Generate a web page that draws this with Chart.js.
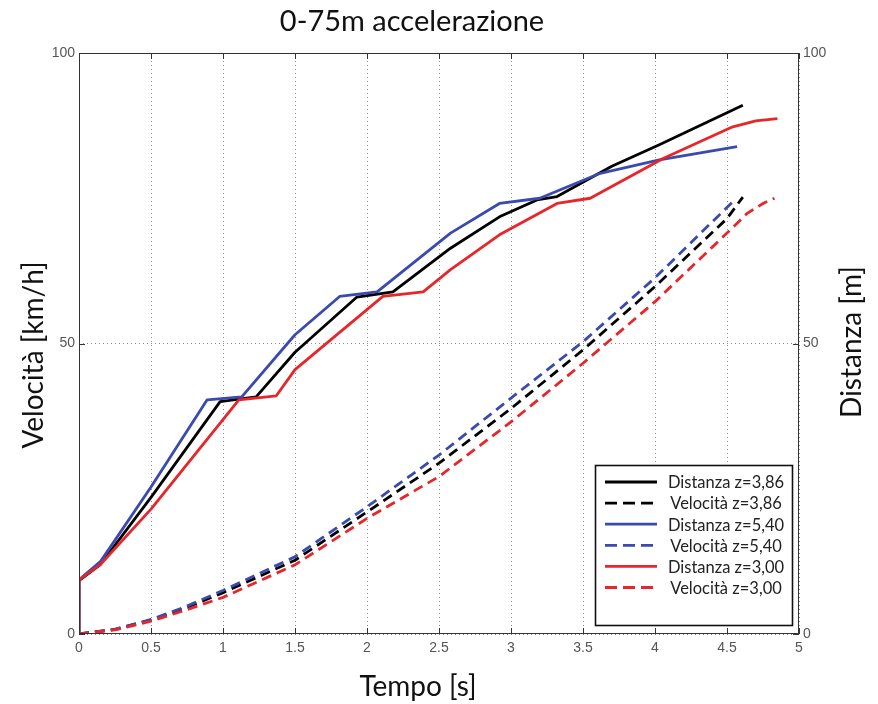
<!DOCTYPE html>
<html>
<head>
<meta charset="utf-8">
<script src="https://cdn.jsdelivr.net/npm/chart.js@4/dist/chart.umd.min.js"></script>
<style>
  html, body { margin: 0; padding: 0; background: #fff; }
  #wrap { width: 878px; height: 704px; position: relative; }
</style>
</head>
<body>
<div id="wrap"><canvas id="c"></canvas></div>
<script>
// Titles
const chartTitle = '0-75m accelerazione';
const xTitle = 'Tempo [s]';
const yLeftTitle = 'Velocità [km/h]';
const yRightTitle = 'Distanza [m]';

// Axis ticks
const xTicks = [0, 0.5, 1, 1.5, 2, 2.5, 3, 3.5, 4, 4.5, 5];
const yTicks = [0, 50, 100];

// Series labels
const seriesLabels = [
  'Distanza z=3,86', 'Velocità z=3,86',
  'Distanza z=5,40', 'Velocità z=5,40',
  'Distanza z=3,00', 'Velocità z=3,00'
];

// z = 3,86 (solid)
const tDist386 = [0, 0, 0.15, 0.5, 0.98, 1.23, 1.5, 1.93, 2.18, 2.58, 2.92, 3.18, 3.32, 3.7, 4.03, 4.61];
const dist386  = [0, 9.2, 12, 23.5, 40, 40.8, 48.5, 58, 58.9, 66.4, 71.8, 74.7, 75.3, 80.5, 84.2, 91.0];
// z = 3,86 (dashed)
const tVel386 = [0, 0.25, 0.5, 0.75, 1, 1.5, 2, 2.5, 3, 3.5, 4, 4.5, 4.61];
const vel386  = [0, 0.8, 2.4, 4.6, 7.1, 12.7, 21, 29.4, 38.8, 48.9, 59.8, 71.5, 75.2];

// z = 5,40 (solid)
const tDist540 = [0, 0, 0.15, 0.5, 0.89, 1.13, 1.5, 1.81, 2.07, 2.58, 2.92, 3.2, 3.62, 4.03, 4.57];
const dist540  = [0, 9.3, 12.5, 25.3, 40.3, 40.8, 51.5, 58.1, 58.9, 69, 74.1, 75, 79.3, 81.6, 83.9];
// z = 5,40 (dashed)
const tVel540 = [0, 0.25, 0.5, 0.75, 1, 1.5, 2, 2.5, 3, 3.5, 4, 4.54];
const vel540  = [0, 0.8, 2.5, 4.8, 7.5, 13.3, 21.9, 30.8, 40.6, 50.3, 61.3, 74.4];

// z = 3,00 (solid)
const tDist300 = [0, 0, 0.15, 0.5, 1.11, 1.37, 1.5, 2.11, 2.39, 2.58, 2.92, 3.32, 3.55, 4.06, 4.54, 4.7, 4.85];
const dist300  = [0, 9.3, 12, 21.5, 40.3, 41, 45.5, 58.1, 58.9, 62.7, 68.7, 74.1, 75, 81.9, 87.3, 88.3, 88.7];
// z = 3,00 (dashed)
const tVel300 = [0, 0.25, 0.5, 0.75, 1, 1.5, 2, 2.5, 3, 3.5, 4, 4.5, 4.64, 4.75, 4.83];
const vel300  = [0, 0.7, 2.2, 4.2, 6.3, 11.9, 19.9, 27.1, 36.5, 46.6, 57.2, 69, 72.4, 74.1, 75];

const BLACK = '#000000';
const BLUE = '#3a4aae';
const RED = '#e8262a';

function pts(ts, vs) { return ts.map((t, i) => ({ x: t, y: vs[i] })); }

function series(label, ts, vs, color, dashed, order) {
  return {
    label: label,
    data: pts(ts, vs),
    borderColor: color,
    backgroundColor: color,
    borderWidth: 2.8,
    borderDash: dashed ? [10, 6] : [],
    borderJoinStyle: 'round',
    pointRadius: 0,
    tension: 0,
    fill: false,
    order: order,
    yAxisID: 'y'
  };
}

const datasets = [
  series(seriesLabels[0], tDist386, dist386, BLACK, false, 3),
  series(seriesLabels[1], tVel386, vel386, BLACK, true, 3),
  series(seriesLabels[2], tDist540, dist540, BLUE, false, 2),
  series(seriesLabels[3], tVel540, vel540, BLUE, true, 2),
  series(seriesLabels[4], tDist300, dist300, RED, false, 1),
  series(seriesLabels[5], tVel300, vel300, RED, true, 1)
];

const TEXT_FONT = 'Lato, "Open Sans", sans-serif';
const TICK_FONT = { family: '"Liberation Sans", Arial, sans-serif', size: 14 };

// Frame, inward tick marks, titles and the boxed legend
const decorations = {
  id: 'decorations',
  afterDatasetsDraw(chart) {
    const { ctx, chartArea: a, scales } = chart;
    ctx.save();
    ctx.strokeStyle = '#333';
    ctx.lineWidth = 1;
    ctx.setLineDash([]);
    ctx.strokeRect(a.left + 0.5, a.top + 0.5, a.right - a.left - 1, a.bottom - a.top - 1);
    ctx.beginPath();
    xTicks.forEach(v => {
      const px = Math.round(scales.x.getPixelForValue(v)) + 0.5;
      ctx.moveTo(px, a.bottom); ctx.lineTo(px, a.bottom - 6);
      ctx.moveTo(px, a.top); ctx.lineTo(px, a.top + 6);
    });
    yTicks.forEach(v => {
      const py = Math.round(scales.y.getPixelForValue(v)) + 0.5;
      ctx.moveTo(a.left, py); ctx.lineTo(a.left + 6, py);
      ctx.moveTo(a.right, py); ctx.lineTo(a.right - 6, py);
    });
    ctx.stroke();
    ctx.restore();
  },
  afterDraw(chart) {
    const { ctx } = chart;
    ctx.save();
    ctx.fillStyle = '#111';
    ctx.textAlign = 'center';
    ctx.textBaseline = 'middle';

    ctx.font = '29px ' + TEXT_FONT;
    ctx.fillText(chartTitle, 412, 22);
    ctx.font = '28px ' + TEXT_FONT;
    ctx.fillText(xTitle, 418, 687);

    ctx.save();
    ctx.translate(34, 355);
    ctx.rotate(-Math.PI / 2);
    ctx.fillText(yLeftTitle, 0, 0);
    ctx.restore();

    ctx.save();
    ctx.translate(852, 342);
    ctx.rotate(-Math.PI / 2);
    ctx.fillText(yRightTitle, 0, 0);
    ctx.restore();

    // Legend box
    const bx = 595.5, by = 465.5, bw = 197, bh = 160;
    ctx.fillStyle = '#fff';
    ctx.fillRect(bx, by, bw, bh);
    ctx.strokeStyle = '#111';
    ctx.lineWidth = 1.6;
    ctx.strokeRect(bx, by, bw, bh);

    ctx.font = '16.5px ' + TEXT_FONT;
    ctx.textAlign = 'center';
    ctx.fillStyle = '#222';
    chart.data.datasets.forEach((ds, i) => {
      const y = 482 + i * 21.1;
      ctx.save();
      ctx.strokeStyle = ds.borderColor;
      ctx.lineWidth = 2.8;
      ctx.setLineDash(ds.borderDash.length ? [12, 6] : []);
      ctx.beginPath();
      ctx.moveTo(605, y);
      ctx.lineTo(657, y);
      ctx.stroke();
      ctx.restore();
      ctx.fillText(ds.label, 726, y + 1);
    });
    ctx.restore();
  }
};

function fixedWidth(w) { return function (scale) { scale.width = w; }; }

new Chart(document.getElementById('c'), {
  type: 'line',
  data: { datasets: datasets },
  plugins: [decorations],
  options: {
    responsive: true,
    maintainAspectRatio: false,
    animation: false,
    layout: { padding: { top: 53, left: 0, right: 0, bottom: 0 } },
    plugins: {
      legend: { display: false },
      title: { display: false },
      tooltip: { enabled: false }
    },
    scales: {
      x: {
        type: 'linear',
        min: 0, max: 5,
        afterFit(scale) { scale.height = 70; },
        afterBuildTicks(scale) { scale.ticks = xTicks.map(v => ({ value: v })); },
        ticks: {
          color: '#555',
          font: TICK_FONT,
          padding: 6,
          maxRotation: 0,
          autoSkip: false,
          callback: v => String(v)
        },
        grid: { color: '#8a8a8a', lineWidth: 1, drawTicks: false },
        border: { display: false, dash: [1, 3] }
      },
      y: {
        type: 'linear',
        position: 'left',
        min: 0, max: 100,
        afterFit: fixedWidth(79),
        afterBuildTicks(scale) { scale.ticks = yTicks.map(v => ({ value: v })); },
        ticks: { color: '#555', font: TICK_FONT, padding: 4, callback: v => String(v) },
        grid: { color: '#8a8a8a', lineWidth: 1, drawTicks: false },
        border: { display: false, dash: [1, 3] }
      },
      y2: {
        type: 'linear',
        position: 'right',
        min: 0, max: 100,
        afterFit: fixedWidth(79),
        afterBuildTicks(scale) { scale.ticks = yTicks.map(v => ({ value: v })); },
        ticks: { color: '#555', font: TICK_FONT, padding: 4, callback: v => String(v) },
        grid: { drawOnChartArea: false, drawTicks: false },
        border: { display: false }
      }
    }
  }
});
</script>
</body>
</html>
